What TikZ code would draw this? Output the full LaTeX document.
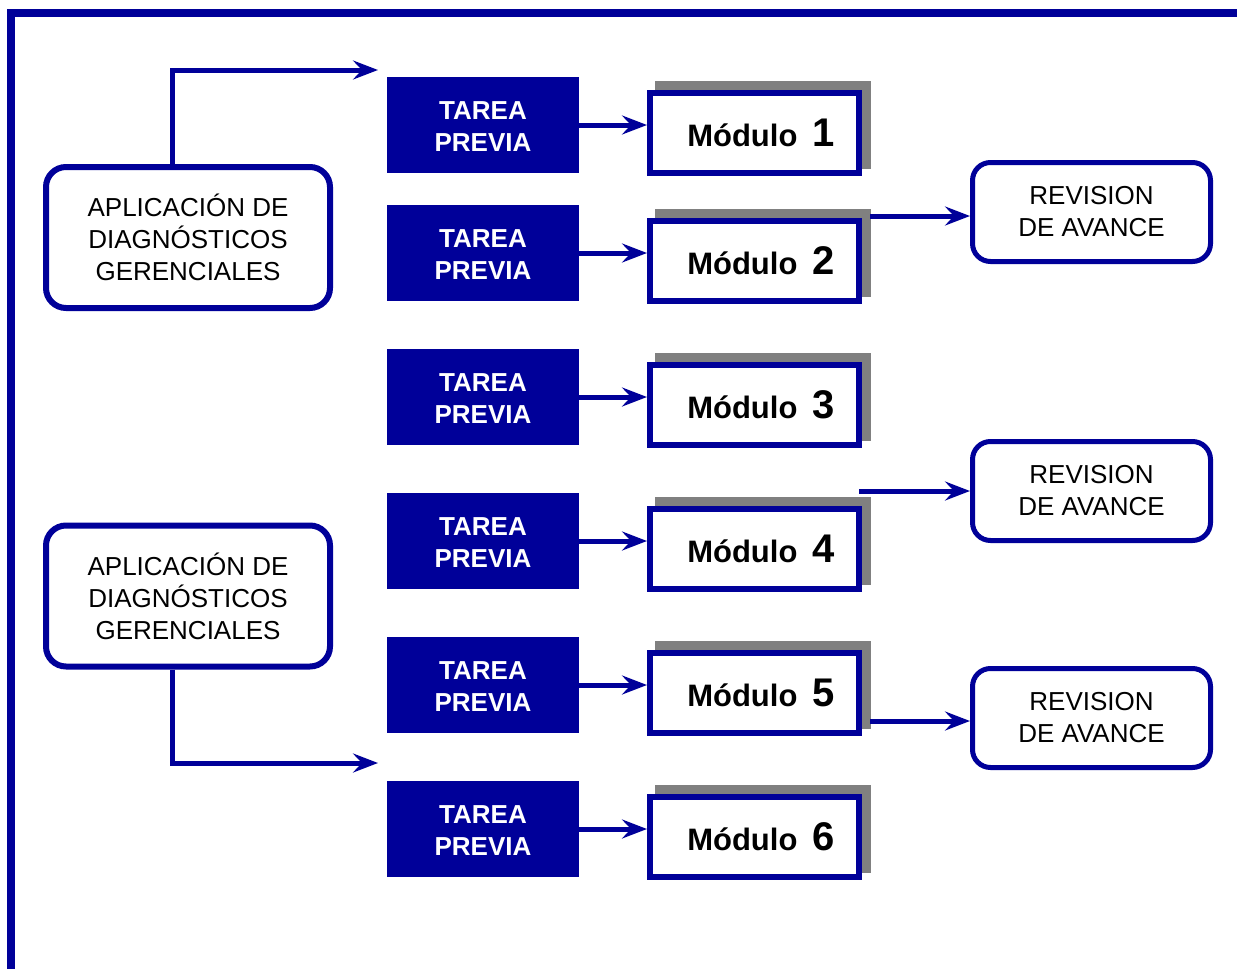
\documentclass[tikz,border=0pt]{standalone}
\usepackage{fontspec}
\setmainfont{Liberation Sans}
\usetikzlibrary{arrows.meta}
\definecolor{navy}{RGB}{0,0,153}
\definecolor{shadowgray}{RGB}{128,128,128}
\tikzset{
  tarea/.style={fill=navy, minimum width=192pt, minimum height=96pt, inner sep=0pt, text=white, align=center, font=\bfseries\fontsize{26}{32}\selectfont},
  modbox/.style={draw=navy, line width=6pt, fill=white, minimum width=209pt, minimum height=80pt, inner sep=0pt, font=\bfseries\fontsize{31}{31}\selectfont},
  revbox/.style={draw=navy, line width=5pt, fill=white, rounded corners=18pt, minimum width=238pt, minimum height=99pt, inner sep=0pt, align=center, font=\fontsize{26}{32}\selectfont},
  aplbox/.style={draw=navy, line width=6pt, fill=white, rounded corners=20pt, minimum width=284pt, minimum height=141pt, inner sep=0pt, align=center, font=\fontsize{26}{32}\selectfont},
  conn/.style={draw=navy, line width=5pt, -{Stealth[length=25pt, width=19pt, inset=9pt]}},
}
\newcommand{\modtext}[1]{\hspace*{13pt}M\'odulo\hspace{15pt}{\fontsize{40}{40}\selectfont #1}}
\begin{document}
\begin{tikzpicture}[x=1pt,y=-1pt]
\useasboundingbox (0,0) rectangle (1237,969);
% frame
\draw[navy, line width=8pt, line join=miter] (11,975) -- (11,13) -- (1245,13);

% aplicacion boxes
\node[aplbox] (a1) at (188,237.5) {APLICACI\'ON DE\\DIAGN\'OSTICOS\\GERENCIALES};
\node[aplbox] (a2) at (188,596) {APLICACI\'ON DE\\DIAGN\'OSTICOS\\GERENCIALES};
\coordinate (t1) at (378,70);
\coordinate (t2) at (378,763);
\draw[conn] ([xshift=-16pt]a1.north) |- (t1);
\draw[conn] ([xshift=-16pt]a2.south) |- (t2);

% tarea + modules
\foreach \i/\y in {1/125,2/253,3/397,4/541,5/685,6/829}{
  \node[tarea] (tp\i) at (483,\y) {\rule{0pt}{21pt}TAREA\\PREVIA};
  \fill[shadowgray] (655,\y-44) rectangle (871,\y+44);
  \node[modbox] (m\i) at (754.5,\y+8) {\modtext{\i}};
  \draw[conn] (tp\i.east) -- (tp\i.east -| m\i.west);
}

% revision boxes
\node[revbox] (r1) at (1091.5,212) {REVISION\\DE AVANCE};
\node[revbox] (r2) at (1091.5,491) {REVISION\\DE AVANCE};
\node[revbox] (r3) at (1091.5,718) {REVISION\\DE AVANCE};
\coordinate (s1) at (870,216);
\coordinate (s2) at (859,491);
\coordinate (s3) at (870,721);
\draw[conn] (s1) -- (s1 -| r1.west);
\draw[conn] (s2) -- (s2 -| r2.west);
\draw[conn] (s3) -- (s3 -| r3.west);
\end{tikzpicture}
\end{document}
